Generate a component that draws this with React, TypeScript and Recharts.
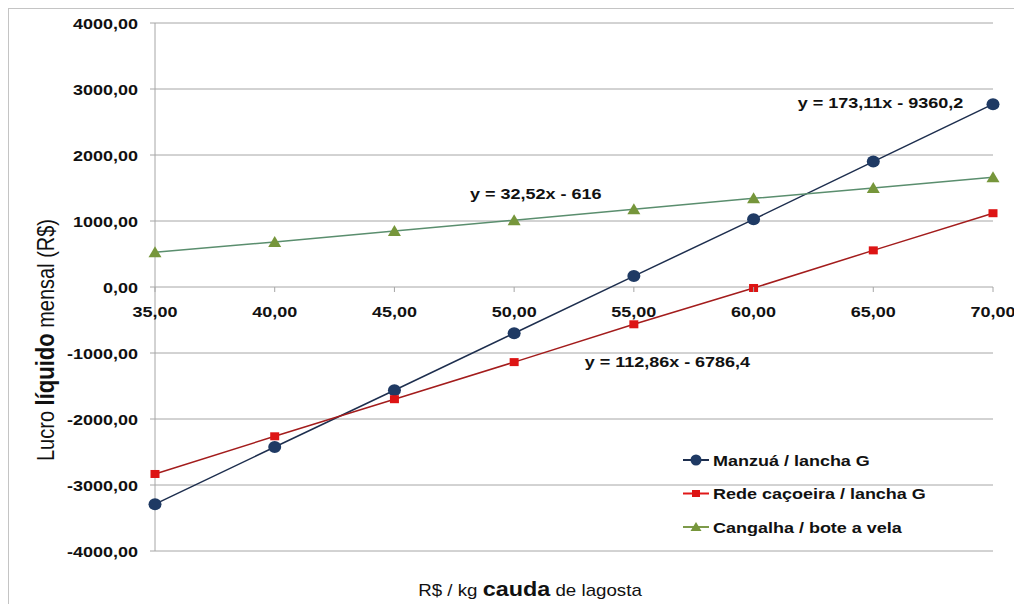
import React from "react";
import {
  LineChart,
  Line,
  XAxis,
  YAxis,
  CartesianGrid,
  ReferenceDot,
  Label,
} from "recharts";

// ---- data ----
const xValues = [35, 40, 45, 50, 55, 60, 65, 70];
const manzua = [-3290, -2425, -1565, -700, 165, 1025, 1900, 2770];
const rede = [-2833, -2262, -1700, -1138, -565, -15, 555, 1118];
const cangalha = [525, 682, 848, 1012, 1178, 1343, 1500, 1662];
const yTicks = [-4000, -3000, -2000, -1000, 0, 1000, 2000, 3000, 4000];

const seriesNames = ["Manzuá / lancha G", "Rede caçoeira / lancha G", "Cangalha / bote a vela"];
const equations = [
  { text: "y = 173,11x - 9360,2", x: 65.3, y: 2800 },
  { text: "y = 32,52x - 616", x: 50.9, y: 1424 },
  { text: "y = 112,86x - 6786,4", x: 56.4, y: -1136 },
];
const xTitle = { a: "R$ / kg ", b: "cauda", c: " de lagosta" };
const yTitle = { a: "Lucro ", b: "líquido", c: " mensal (R$)" };

const data = xValues.map((x, i) => ({
  x,
  manzua: manzua[i],
  rede: rede[i],
  cangalha: cangalha[i],
}));

// ---- style ----
const W = 1013;
const H = 595;
const X_AXIS_H = 20;
const MARGIN = { top: 14, right: 29, bottom: 33, left: 0 };
const PLOT_H = H - MARGIN.top - MARGIN.bottom - X_AXIS_H;
const FONT = "'Liberation Sans', Arial, sans-serif";
const SX = 1.2;
const GRID = "#a6a6a6";
const COLORS = {
  manzua: { line: "#1d2e4e", marker: "#1f3a64" },
  rede: { line: "#a31c1c", marker: "#dd1414" },
  cangalha: { line: "#5a8e6e", marker: "#76963b" },
};

const fmt = (v: number) => v.toFixed(2).replace(".", ",");

const YTick = (props: any) => {
  const { x, y, payload } = props;
  return (
    <g transform={`translate(${x},${y + 5.5}) scale(${SX},1)`}>
      <text x={0} y={0} textAnchor="end" fontFamily={FONT} fontWeight="bold" fontSize={15} fill="#111">
        {fmt(payload.value)}
      </text>
    </g>
  );
};

const XTick = (props: any) => {
  const { x, y, payload } = props;
  const zeroY = y - PLOT_H / 2;
  return (
    <g>
      <line x1={x} x2={x} y1={zeroY} y2={zeroY + 5} stroke={GRID} strokeWidth={1} />
      <g transform={`translate(${x},${zeroY + 30}) scale(${SX},1)`}>
        <text x={0} y={0} textAnchor="middle" fontFamily={FONT} fontWeight="bold" fontSize={15} fill="#111">
          {fmt(payload.value)}
        </text>
      </g>
    </g>
  );
};

const CircleDot = (props: any) => {
  const { cx, cy } = props;
  if (cx == null || cy == null) return <g />;
  return <ellipse cx={cx} cy={cy} rx={6.5} ry={6} fill={COLORS.manzua.marker} />;
};
const SquareDot = (props: any) => {
  const { cx, cy } = props;
  if (cx == null || cy == null) return <g />;
  return <rect x={cx - 4.5} y={cy - 4} width={9} height={8} fill={COLORS.rede.marker} />;
};
const TriDot = (props: any) => {
  const { cx, cy } = props;
  if (cx == null || cy == null) return <g />;
  return (
    <polygon
      points={`${cx},${cy - 6} ${cx + 6.5},${cy + 5} ${cx - 6.5},${cy + 5}`}
      fill={COLORS.cangalha.marker}
    />
  );
};

const EqShape = (text: string) => (props: any) => {
  const { cx, cy } = props;
  return (
    <g transform={`translate(${cx},${cy + 5.5}) scale(${SX},1)`}>
      <text x={0} y={0} textAnchor="middle" fontFamily={FONT} fontWeight="bold" fontSize={15} fill="#111">
        {text}
      </text>
    </g>
  );
};

const YTitle = () => (
  <g transform={`translate(45,331) scale(${SX},1) rotate(-90)`}>
    <text x={0} y={0} textAnchor="middle" fontFamily={FONT} fill="#111">
      <tspan fontSize={20}>{yTitle.a}</tspan>
      <tspan fontSize={22} fontWeight="bold">{yTitle.b}</tspan>
      <tspan fontSize={20}>{yTitle.c}</tspan>
    </text>
  </g>
);

const XTitle = () => (
  <g transform={`translate(521,587) scale(1.17,1)`}>
    <text x={0} y={0} textAnchor="middle" fontFamily={FONT} fill="#111">
      <tspan fontSize={16}>{xTitle.a}</tspan>
      <tspan fontSize={20} fontWeight="bold">{xTitle.b}</tspan>
      <tspan fontSize={16}>{xTitle.c}</tspan>
    </text>
  </g>
);

const legendMarkers = [
  (cx: number, cy: number) => <circle cx={cx} cy={cy} r={5.5} fill={COLORS.manzua.marker} />,
  (cx: number, cy: number) => <rect x={cx - 4} y={cy - 3.5} width={8} height={7} fill={COLORS.rede.marker} />,
  (cx: number, cy: number) => (
    <polygon points={`${cx},${cy - 5} ${cx + 5.5},${cy + 4} ${cx - 5.5},${cy + 4}`} fill={COLORS.cangalha.marker} />
  ),
];
const legendLineColors = [COLORS.manzua.line, "#e01818", "#7d9a4a"];

const LegendBox = () => (
  <svg
    width={320}
    height={110}
    style={{ position: "absolute", left: 670, top: 440, overflow: "visible" }}
  >
    {seriesNames.map((name, i) => {
      const cy = 11 + i * 33.5;
      return (
        <g key={name}>
          <line x1={4} x2={30} y1={cy} y2={cy} stroke={legendLineColors[i]} strokeWidth={2} />
          {legendMarkers[i](17, cy)}
          <g transform={`translate(34,${cy + 5.5}) scale(${SX},1)`}>
            <text x={0} y={0} fontFamily={FONT} fontWeight="bold" fontSize={15} fill="#111">
              {name}
            </text>
          </g>
        </g>
      );
    })}
  </svg>
);

export default function App() {
  return (
    <div
      style={{
        position: "relative",
        width: W,
        height: H + 1,
        borderTop: "1px solid #c4c4c4",
        borderLeft: "1px solid #c4c4c4",
        background: "#fff",
      }}
    >
      <LineChart width={W} height={H} data={data} margin={MARGIN}>
        <CartesianGrid vertical={false} stroke={GRID} strokeWidth={1} />
        <XAxis
          type="number"
          dataKey="x"
          domain={[35, 70]}
          ticks={xValues}
          interval={0}
          height={X_AXIS_H}
          axisLine={false}
          tickLine={false}
          tickSize={0}
          tickMargin={0}
          tick={XTick}
        >
          <Label content={() => <XTitle />} />
        </XAxis>
        <YAxis
          type="number"
          domain={[-4000, 4000]}
          ticks={yTicks}
          interval={0}
          width={146}
          axisLine={{ stroke: GRID }}
          tickLine={{ stroke: GRID }}
          tickSize={5}
          tickMargin={12}
          tick={YTick}
        >
          <Label content={() => <YTitle />} />
        </YAxis>
        <Line
          type="linear"
          dataKey="manzua"
          name={seriesNames[0]}
          stroke={COLORS.manzua.line}
          strokeWidth={1.5}
          dot={CircleDot}
          isAnimationActive={false}
        />
        <Line
          type="linear"
          dataKey="rede"
          name={seriesNames[1]}
          stroke={COLORS.rede.line}
          strokeWidth={1.5}
          dot={SquareDot}
          isAnimationActive={false}
        />
        <Line
          type="linear"
          dataKey="cangalha"
          name={seriesNames[2]}
          stroke={COLORS.cangalha.line}
          strokeWidth={1.5}
          dot={TriDot}
          isAnimationActive={false}
        />
        {equations.map((eq) => (
          <ReferenceDot key={eq.text} x={eq.x} y={eq.y} r={0} shape={EqShape(eq.text)} />
        ))}
      </LineChart>
      <LegendBox />
    </div>
  );
}
